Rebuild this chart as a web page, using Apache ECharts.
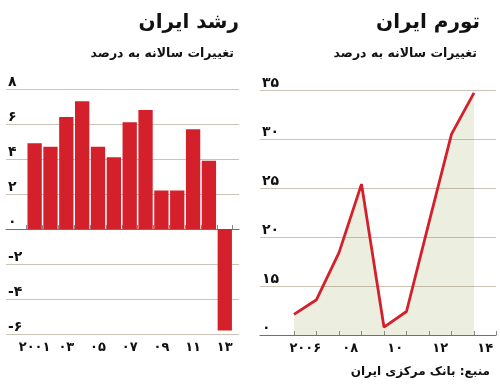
<!DOCTYPE html>
<html><head><meta charset="utf-8">
<script src="https://cdn.jsdelivr.net/npm/echarts@6/dist/echarts.min.js"></script>
<style>html,body{margin:0;padding:0;background:#fff}#c{width:500px;height:391px}</style>
</head><body><div id="c"></div>
<script>
// ---- Left panel: GDP growth (annual % change) ----
const growthYears = ['2001','2002','2003','2004','2005','2006','2007','2008','2009','2010','2011','2012','2013'];
const growthValues = [4.9, 4.7, 6.4, 7.3, 4.7, 4.1, 6.1, 6.8, 2.2, 2.2, 5.7, 3.9, -5.8];
const growthXLabels = ['۲۰۰۱','','۰۳','','۰۵','','۰۷','','۰۹','','۱۱','','۱۳'];
const growthYTicks = [-6, -4, -2, 0, 2, 4, 6, 8];
const growthYLabels = ['-۶','-۴','-۲','۰','۲','۴','۶','۸'];

// ---- Right panel: inflation (annual % change) ----
const inflationYears = [2005, 2006, 2007, 2008, 2009, 2010, 2011, 2012, 2013];
const inflationValues = [12.1, 13.6, 18.4, 25.4, 10.8, 12.4, 21.5, 30.5, 34.7];
const inflationXCats = ['2006','2007','2008','2009','2010','2011','2012','2013','2014'];
const inflationXLabels = ['۲۰۰۶','','۰۸','','۱۰','','۱۲','','۱۴'];
const inflationYTicks = [10, 15, 20, 25, 30, 35];
const inflationYLabels = ['۰','۱۵','۲۰','۲۵','۳۰','۳۵'];

// ---- Texts ----
const leftTitle = 'رشد ایران';
const rightTitle = 'تورم ایران';
const subTitle = 'تغییرات سالانه به درصد';
const sourceText = 'منبع: بانک مرکزی ایران';

const FONT = 'DejaVu Sans';
const RED = '#d3202b';
const GRID = 'rgba(130,112,80,0.42)';
const AXIS = '#707070';

function lab(ticks, labels) {
  return v => { const i = ticks.indexOf(v); return i >= 0 ? labels[i] : ''; };
}
const yLabelStyle = {inside: true, margin: 2, verticalAlign: 'bottom', fontFamily: FONT, fontSize: 14, fontWeight: 'bold', color: '#111'};
const xLabelStyle = {fontFamily: FONT, fontSize: 13, fontWeight: 'bold', color: '#111', margin: 7, interval: 0};
const titleStyle = {fontFamily: FONT, fontSize: 20, fontWeight: 'bold', color: '#111'};
const subStyle = {fontFamily: FONT, fontSize: 12.5, fontWeight: 'bold', color: '#111'};

const chart = echarts.init(document.getElementById('c'), null, {renderer: 'canvas'});
chart.setOption({
  animation: false,
  backgroundColor: '#fff',
  title: [
    {text: leftTitle, right: 261, top: 13, padding: 0, textStyle: titleStyle},
    {text: subTitle, right: 266, top: 47, padding: 0, textStyle: subStyle},
    {text: rightTitle, right: 20, top: 13, padding: 0, textStyle: titleStyle},
    {text: subTitle, right: 23, top: 47, padding: 0, textStyle: subStyle},
    {text: sourceText, right: 10, top: 366, padding: 0, textStyle: {fontFamily: FONT, fontSize: 12, fontWeight: 'bold', color: '#111'}}
  ],
  grid: [
    {left: 6, top: 89, width: 233, height: 245},
    {left: 26.7, top: 89, width: 206, height: 245},
    {left: 260, top: 90, width: 236, height: 245},
    {left: 294, top: 90, width: 202.5, height: 245}
  ],
  xAxis: [
    {gridIndex: 0, type: 'value', min: 0, max: 1, axisLine: {show: true, lineStyle: {color: AXIS, width: 1.2}}, axisTick: {show: false}, axisLabel: {show: false}, splitLine: {show: false}},
    {gridIndex: 1, type: 'category', data: growthYears, boundaryGap: true, axisLine: {show: false},
      axisTick: {show: true, inside: true, length: 4, lineStyle: {color: '#888'}},
      axisLabel: Object.assign({formatter: (v, i) => growthXLabels[i]}, xLabelStyle)},
    {gridIndex: 2, type: 'value', min: 0, max: 1, axisLine: {show: true, lineStyle: {color: AXIS, width: 1.2}}, axisTick: {show: false}, axisLabel: {show: false}, splitLine: {show: false}},
    {gridIndex: 3, type: 'category', data: inflationXCats, boundaryGap: true, axisLine: {show: false},
      axisTick: {show: true, inside: true, length: 4, lineStyle: {color: '#888'}},
      axisLabel: Object.assign({formatter: (v, i) => inflationXLabels[i]}, xLabelStyle)},
    {gridIndex: 3, type: 'value', min: 2005, max: 2014, show: false}
  ],
  yAxis: [
    {gridIndex: 0, type: 'value', min: -6, max: 8, interval: 2, axisLine: {show: false}, axisTick: {show: false},
      splitLine: {show: true, lineStyle: {color: GRID, width: 1.2}},
      axisLabel: Object.assign({formatter: lab(growthYTicks, growthYLabels)}, yLabelStyle)},
    {gridIndex: 1, type: 'value', min: -6, max: 8, show: false},
    {gridIndex: 2, type: 'value', min: 10, max: 35, interval: 5, axisLine: {show: false}, axisTick: {show: false},
      splitLine: {show: true, lineStyle: {color: GRID, width: 1.2}},
      axisLabel: Object.assign({formatter: lab(inflationYTicks, inflationYLabels)}, yLabelStyle)},
    {gridIndex: 3, type: 'value', min: 10, max: 35, show: false}
  ],
  series: [
    {type: 'bar', xAxisIndex: 1, yAxisIndex: 1, data: growthValues, barWidth: 14.3,
      itemStyle: {color: RED}},
    {type: 'line', xAxisIndex: 4, yAxisIndex: 3, data: inflationYears.map((y, i) => [y, inflationValues[i]]),
      symbol: 'none', z: -1, lineStyle: {width: 0, opacity: 0},
      areaStyle: {color: '#eceedf', opacity: 1}},
    {type: 'line', xAxisIndex: 4, yAxisIndex: 3, data: inflationYears.map((y, i) => [y, inflationValues[i]]),
      symbol: 'none', z: 3, lineStyle: {color: RED, width: 2.8}}
  ]
});
</script></body></html>
